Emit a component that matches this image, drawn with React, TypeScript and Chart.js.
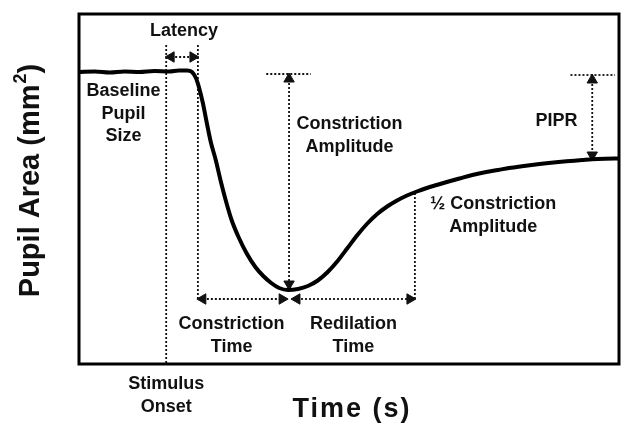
import React, { useEffect, useRef } from "react";
import { Chart, registerables } from "chart.js";

Chart.register(...registerables);

// Pupil response curve (time and area in arbitrary units)
const timeValues = [
  0, 16, 31, 46, 61, 76, 91, 101, 109, 114, 118, 121, 125, 129, 133, 138, 143, 148, 154, 161,
  169, 178, 186, 194, 202, 211, 221, 231, 241, 251, 261, 271, 281, 291, 301, 311, 321, 331,
  341, 351, 361, 373, 384, 397, 411, 423, 434, 447, 461, 474, 484, 496, 508, 518, 531, 545,
];
const areaValues = [
  292, 292.5, 291.5, 292.5, 292, 293, 292.5, 293.5, 293.5, 292, 286, 277, 261, 241, 222, 204,
  183, 164, 144, 127, 111, 97, 88, 81, 76, 74, 75, 78, 83.5, 92, 103, 116, 129, 140.5, 150,
  157.5, 163.5, 168.5, 172.5, 176, 179, 182.5, 185.5, 189, 192, 194, 196, 197.8, 199.5, 201,
  202, 203, 204, 204.8, 205.3, 205.5,
];

// Dotted guide lines: [start, end] in the same units
const guideT = [
  [88, 88], // stimulus onset
  [120, 120], // end of latency
  [93, 115], // latency arrow
  [189, 234], // constriction amplitude reference
  [212, 212], // constriction amplitude arrow
  [125, 205], // constriction time arrow
  [220, 334], // redilation time arrow
  [339, 339], // half constriction amplitude
  [496, 541], // PIPR reference
  [518, 518], // PIPR arrow
];
const guideA = [
  [319, 0],
  [319, 65],
  [307, 307],
  [290, 290],
  [285, 80],
  [65, 65],
  [65, 65],
  [171, 65],
  [289, 289],
  [284, 209],
];
// arrow heads: direction at start / end ("" = none)
const guideArrowStart = ["", "", "left", "", "up", "left", "left", "", "", "up"];
const guideArrowEnd = ["", "", "right", "", "down", "right", "right", "", "", "down"];

// Annotation texts and where they sit (same units)
const labelLines = [
  ["Latency"],
  ["Baseline", "Pupil", "Size"],
  ["Constriction", "Amplitude"],
  ["Constriction", "Time"],
  ["Redilation", "Time"],
  ["½ Constriction", "Amplitude"],
  ["PIPR"],
  ["Stimulus", "Onset"],
];
const labelT = [106, 45, 273, 154, 277, 418, 482, 88];
const labelA = [334, 274, 241, 41, 41, 161, 244, -19];

const xTitle = "Time (s)";
const yTitleMain = "Pupil Area (mm";
const yTitleSup = "2";
const yTitleEnd = ")";

const FONT = '"Liberation Sans", Arial, Helvetica, sans-serif';
const rot: Record<string, number> = { up: 0, right: 90, down: 180, left: 270, "": 0 };

const overlayPlugin = {
  id: "overlay",
  afterDraw(chart: any) {
    const { ctx, chartArea, scales } = chart;
    const xs = scales.x;
    const ys = scales.y;
    ctx.save();
    // frame
    ctx.strokeStyle = "#000";
    ctx.lineWidth = 3;
    ctx.strokeRect(chartArea.left, chartArea.top, chartArea.right - chartArea.left, chartArea.bottom - chartArea.top);

    // annotation labels
    ctx.fillStyle = "#111";
    ctx.font = `bold 18px ${FONT}`;
    ctx.textAlign = "center";
    ctx.textBaseline = "alphabetic";
    labelLines.forEach((lines, i) => {
      const cx = xs.getPixelForValue(labelT[i]);
      const cy = ys.getPixelForValue(labelA[i]);
      lines.forEach((line, j) => {
        ctx.fillText(line, cx, cy + 6 + j * 22.5);
      });
    });

    // x title
    ctx.font = `bold 27px ${FONT}`;
    (ctx as any).letterSpacing = "2px";
    ctx.fillText(xTitle, (chartArea.left + chartArea.right) / 2 + 3, 417);
    (ctx as any).letterSpacing = "0px";

    // y title
    ctx.translate(39, 181);
    ctx.rotate(-Math.PI / 2);
    ctx.textAlign = "left";
    ctx.font = `bold 29px ${FONT}`;
    const w1 = ctx.measureText(yTitleMain).width;
    const w3 = ctx.measureText(yTitleEnd).width;
    ctx.font = `bold 18px ${FONT}`;
    const w2 = ctx.measureText(yTitleSup).width;
    let x = -(w1 + w2 + w3) / 2;
    ctx.font = `bold 29px ${FONT}`;
    ctx.fillText(yTitleMain, x, 0);
    x += w1;
    ctx.font = `bold 18px ${FONT}`;
    ctx.fillText(yTitleSup, x + 1, -13);
    x += w2 + 1;
    ctx.font = `bold 29px ${FONT}`;
    ctx.fillText(yTitleEnd, x, 0);
    ctx.restore();
  },
};

export default function App() {
  const canvasRef = useRef<HTMLCanvasElement | null>(null);

  useEffect(() => {
    document.body.style.margin = "0";
    const canvas = canvasRef.current;
    if (!canvas) return;

    const curve = {
      label: "Pupil area",
      data: timeValues.map((t, i) => ({ x: t, y: areaValues[i] })),
      borderColor: "#000",
      borderWidth: 4,
      pointRadius: 0,
      cubicInterpolationMode: "monotone" as const,
      borderCapStyle: "round" as const,
      borderJoinStyle: "round" as const,
      order: 0,
    };

    const guides = guideT.map((ts, i) => ({
      label: "guide" + i,
      data: ts.map((t, j) => ({ x: t, y: guideA[i][j] })),
      borderColor: "#111",
      borderWidth: 1.8,
      borderDash: [2, 2],
      tension: 0,
      pointStyle: "triangle" as const,
      pointRadius: [guideArrowStart[i] ? 6 : 0, guideArrowEnd[i] ? 6 : 0],
      pointRotation: [rot[guideArrowStart[i]], rot[guideArrowEnd[i]]],
      pointBackgroundColor: "#111",
      pointBorderColor: "#111",
      pointBorderWidth: 1,
      order: 1,
    }));

    const chart = new Chart(canvas, {
      type: "line",
      data: { datasets: [curve, ...guides] as any },
      options: {
        animation: false,
        responsive: true,
        maintainAspectRatio: false,
        layout: { padding: { left: 79, right: 2, top: 14, bottom: 61 } },
        plugins: { legend: { display: false }, tooltip: { enabled: false } },
        scales: {
          x: { type: "linear", min: 0, max: 545, display: false },
          y: { type: "linear", min: 0, max: 350, display: false },
        },
      },
      plugins: [overlayPlugin],
    });
    return () => chart.destroy();
  }, []);

  return (
    <div style={{ position: "fixed", left: 0, top: 0, width: 626, height: 425, background: "#fff" }}>
      <canvas ref={canvasRef} />
    </div>
  );
}
